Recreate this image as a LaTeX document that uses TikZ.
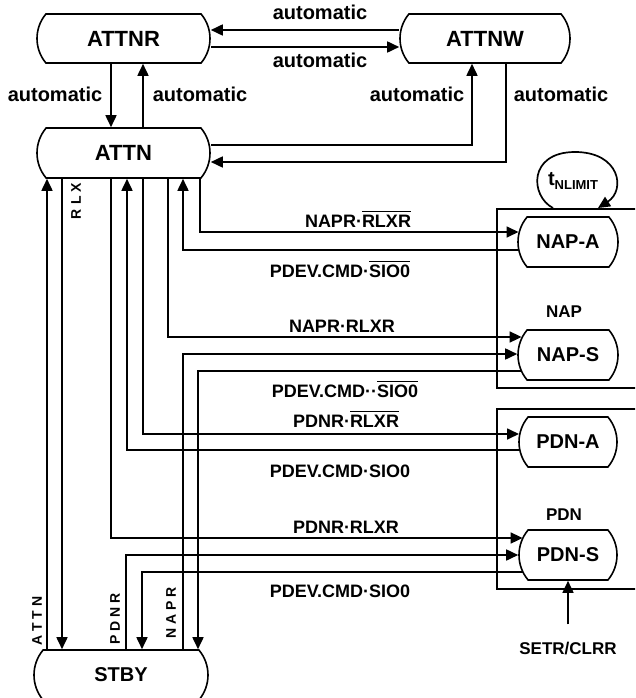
\documentclass[tikz,border=0pt]{standalone}
\usepackage{fontspec}
\setmainfont{Liberation Sans}
\usetikzlibrary{arrows.meta,shapes.misc}
\newcommand\olin[1]{\vbox{\hrule height 1pt\kern2.5pt\hbox{#1}}}
\tikzset{
  st/.style={draw, line width=1.6pt, rounded rectangle, rounded rectangle arc length=80,
    inner sep=0pt, font=\fontsize{20}{24}\selectfont\bfseries},
  big/.style={font=\fontsize{22}{26}\selectfont\bfseries},
  arr/.style={line width=1.7pt, -{Triangle[length=12pt,width=11pt]}},
  lbl/.style={font=\fontsize{18}{22}\selectfont\bfseries, inner sep=0pt, anchor=base},
  autolbl/.style={font=\fontsize{20}{24}\selectfont\bfseries, inner sep=0pt, anchor=base},
  vlbl/.style={font=\fontsize{14}{16}\selectfont\bfseries, rotate=90, inner sep=0pt},
  grp/.style={draw, line width=1.7pt, rectangle, anchor=north west, inner sep=0pt},
  grplbl/.style={font=\fontsize{17}{20}\selectfont\bfseries, anchor=base, inner sep=0pt},
}
\begin{document}
\begin{tikzpicture}[x=1pt,y=-1pt]
\useasboundingbox (0,0) rectangle (635,698);
\clip (0,0) rectangle (635,698);
% state nodes
\node[st, big, minimum width=173pt, minimum height=49pt] (ATTNR) at (123.5,38.5) {ATTNR};
\node[st, big, minimum width=170pt, minimum height=49pt] (ATTNW) at (485,38.5) {ATTNW};
\node[st, big, minimum width=173pt, minimum height=50pt] (ATTN) at (123.5,153) {ATTN};
\node[st, minimum width=174pt, minimum height=50pt] (STBY) at (121,675) {STBY};
\node[st, minimum width=100pt, minimum height=50pt] (NAPA) at (568,242) {NAP-A};
\node[st, minimum width=100pt, minimum height=50pt] (NAPS) at (568,355) {NAP-S};
\node[st, minimum width=98pt, minimum height=50pt] (PDNA) at (568,442) {PDN-A};
\node[st, minimum width=98pt, minimum height=50pt] (PDNS) at (568,555) {PDN-S};
% group boxes
\node[grp, minimum width=170pt, minimum height=179pt] (NAP) at (496,208) {};
\node[grp, minimum width=170pt, minimum height=180pt] (PDN) at (496,408) {};
\node[grplbl] (NAPl) at (564,317) {NAP};
\node[grplbl] (PDNl) at (564,520) {PDN};
% top connectors
\draw[arr] (ATTNW.west |- 0,30) -- (ATTNR.east |- 0,30);
\draw[arr] (ATTNR.east |- 0,47) -- (ATTNW.west |- 0,47);
\draw[arr] (ATTNR.south -| 111,0) -- (ATTN.north -| 111,0);
\draw[arr] (ATTN.north -| 143,0) -- (ATTNR.south -| 143,0);
\draw[arr] (ATTN.east |- 0,145) -| (ATTNW.south -| 472,0);
\draw[arr] (ATTNW.south -| 506,0) |- (ATTN.east |- 0,162);
\node[autolbl] (a1) at (320,20) {automatic};
\node[autolbl] (a2) at (320,68) {automatic};
\node[autolbl] (a3) at (55,102) {automatic};
\node[autolbl] (a4) at (200,102) {automatic};
\node[autolbl] (a5) at (417,102) {automatic};
\node[autolbl] (a6) at (561,102) {automatic};
% ATTN / STBY
\draw[arr] (STBY.north -| 47,0) -- (ATTN.south -| 47,0);
\draw[arr] (ATTN.south -| 62,0) -- (STBY.north -| 62,0);
% ATTN <-> NAP / PDN
\draw[arr] (ATTN.south -| 200,0) |- ([xshift=1.3pt]NAPA.west |- 0,232);
\draw[arr] ([xshift=0.8pt]NAPA.west |- 0,250) -| (ATTN.south -| 183,0);
\draw[arr] (ATTN.south -| 168,0) |- ([xshift=4.4pt]NAPS.west |- 0,337);
\draw[arr] (ATTN.south -| 143,0) |- ([xshift=0.8pt]PDNA.west |- 0,434);
\draw[arr] ([xshift=0.8pt]PDNA.west |- 0,450) -| (ATTN.south -| 127,0);
\draw[arr] (ATTN.south -| 111,0) |- ([xshift=4.4pt]PDNS.west |- 0,538);
% STBY <-> NAP / PDN
\draw[arr] (STBY.north -| 183,0) |- (NAPS.west |- 0,354);
\draw[arr] ([xshift=4.4pt]NAPS.west |- 0,371) -| (STBY.north -| 198,0);
\draw[arr] (STBY.north -| 126,0) |- (PDNS.west |- 0,555);
\draw[arr] ([xshift=4.4pt]PDNS.west |- 0,572) -| (STBY.north -| 142,0);
% edge labels
\node[lbl] (l1) at (358,227) {NAPR·\olin{RLXR}};
\node[lbl] (l2) at (340,277) {PDEV.CMD·\olin{SIO0}};
\node[lbl] (l3) at (342,332) {NAPR·RLXR};
\node[lbl] (l4) at (345,397) {PDEV.CMD··\olin{SIO0}};
\node[lbl] (l5) at (346,427) {PDNR·\olin{RLXR}};
\node[lbl] (l6) at (340,477) {PDEV.CMD·SIO0};
\node[lbl] (l7) at (346,533) {PDNR·RLXR};
\node[lbl] (l8) at (340,597) {PDEV.CMD·SIO0};
% rotated labels
\node[vlbl] (vATTN) at (37,621) {A\kern4pt T\kern4pt T\kern4pt N};
\node[vlbl] (vRLX) at (76,201) {R\kern4pt L\kern4pt X};
\node[vlbl] (vPDNR) at (115,619) {P\kern4pt D\kern4pt N\kern4pt R};
\node[vlbl] (vNAPR) at (171,613) {N\kern4pt A\kern4pt P\kern4pt R};
% SETR/CLRR
\node[lbl, font=\fontsize{17}{20}\selectfont\bfseries] (SETR) at (568,654) {SETR/CLRR};
\draw[arr] ([yshift=17pt]SETR.north) -- (PDNS.south);
% tNLIMIT loop
\coordinate (ls) at (NAP.north -| 553,0);
\coordinate (le) at (NAP.north -| 598,0);
\draw[arr] (ls) .. controls (530,196) and (528,152) .. (575,152)
  .. controls (620,152) and (626,190) .. (le);
\node[font=\fontsize{20}{24}\selectfont\bfseries, inner sep=0pt] (tN) at (573,181) {t\raisebox{-4pt}{\fontsize{13}{15}\selectfont\bfseries NLIMIT}};
\end{tikzpicture}
\end{document}
